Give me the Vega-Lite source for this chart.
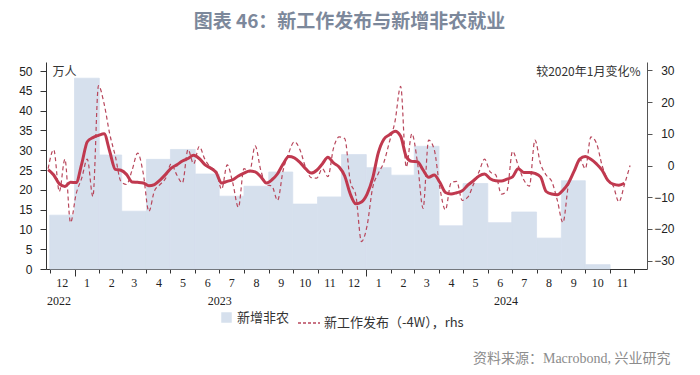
{
  "$schema": "https://vega.github.io/schema/vega-lite/v6.json",
  "width": 601,
  "height": 207,
  "autosize": "none",
  "padding": {"left": 46, "top": 62, "right": 53, "bottom": 106},
  "background": "white",
  "config": {
    "view": {"stroke": null},
    "axis": {"grid": false, "domainColor": "#333", "tickColor": "#333", "labelColor": "#222", "domainWidth": 1, "tickWidth": 1}
  },
  "title": {
    "text": "图表 46：新工作发布与新增非农就业",
    "font": "Noto Sans CJK SC",
    "fontSize": 19,
    "fontWeight": "bold",
    "color": "#7c889b",
    "anchor": "middle",
    "offset": 30,
    "dx": 3
  },
  "datasets": {
    "nfp": [
      {"m": "2022-12-01", "m2": "2023-01-01", "v": 13.6},
      {"m": "2023-01-01", "m2": "2023-02-01", "v": 48.2},
      {"m": "2023-02-01", "m2": "2023-03-01", "v": 28.8},
      {"m": "2023-03-01", "m2": "2023-04-01", "v": 14.6},
      {"m": "2023-04-01", "m2": "2023-05-01", "v": 27.7},
      {"m": "2023-05-01", "m2": "2023-06-01", "v": 30.2},
      {"m": "2023-06-01", "m2": "2023-07-01", "v": 24.0},
      {"m": "2023-07-01", "m2": "2023-08-01", "v": 18.4},
      {"m": "2023-08-01", "m2": "2023-09-01", "v": 20.9},
      {"m": "2023-09-01", "m2": "2023-10-01", "v": 24.5},
      {"m": "2023-10-01", "m2": "2023-11-01", "v": 16.4},
      {"m": "2023-11-01", "m2": "2023-12-01", "v": 18.2},
      {"m": "2023-12-01", "m2": "2024-01-01", "v": 28.9},
      {"m": "2024-01-01", "m2": "2024-02-01", "v": 25.6},
      {"m": "2024-02-01", "m2": "2024-03-01", "v": 23.7},
      {"m": "2024-03-01", "m2": "2024-04-01", "v": 31.0},
      {"m": "2024-04-01", "m2": "2024-05-01", "v": 10.9},
      {"m": "2024-05-01", "m2": "2024-06-01", "v": 21.6},
      {"m": "2024-06-01", "m2": "2024-07-01", "v": 11.7},
      {"m": "2024-07-01", "m2": "2024-08-01", "v": 14.4},
      {"m": "2024-08-01", "m2": "2024-09-01", "v": 7.8},
      {"m": "2024-09-01", "m2": "2024-10-01", "v": 22.3},
      {"m": "2024-10-01", "m2": "2024-11-01", "v": 1.1}
    ],
    "weekly": [
      {"d": "2022-11-29", "p": -1.0, "s": -1.3},
      {"d": "2022-12-06", "p": 5.0, "s": -3.0},
      {"d": "2022-12-13", "p": -8.2, "s": -5.8},
      {"d": "2022-12-20", "p": 2.0, "s": -6.6},
      {"d": "2022-12-27", "p": -18.0, "s": -5.3},
      {"d": "2023-01-03", "p": -9.0, "s": -5.4},
      {"d": "2023-01-10", "p": -4.0, "s": 0.5},
      {"d": "2023-01-17", "p": 2.0, "s": 7.5},
      {"d": "2023-01-24", "p": -9.8, "s": 8.8},
      {"d": "2023-01-31", "p": 25.2, "s": 9.5},
      {"d": "2023-02-07", "p": 19.5, "s": 10.0},
      {"d": "2023-02-14", "p": 10.0, "s": 4.5},
      {"d": "2023-02-21", "p": 3.0, "s": -1.2},
      {"d": "2023-02-28", "p": -5.0, "s": -1.5},
      {"d": "2023-03-07", "p": -6.0, "s": -2.8},
      {"d": "2023-03-14", "p": -1.5, "s": -5.2},
      {"d": "2023-03-21", "p": 3.9, "s": -5.3},
      {"d": "2023-03-28", "p": -2.5, "s": -5.5},
      {"d": "2023-04-04", "p": -14.5, "s": -6.4},
      {"d": "2023-04-11", "p": -8.0, "s": -6.0},
      {"d": "2023-04-18", "p": -6.0, "s": -4.6},
      {"d": "2023-04-25", "p": -4.0, "s": -2.8},
      {"d": "2023-05-02", "p": 0.5, "s": -0.8},
      {"d": "2023-05-09", "p": -3.0, "s": 0.2},
      {"d": "2023-05-16", "p": -5.5, "s": 1.4},
      {"d": "2023-05-23", "p": 5.0, "s": 2.2},
      {"d": "2023-05-30", "p": 0.5, "s": 3.2},
      {"d": "2023-06-06", "p": 6.0, "s": 2.2},
      {"d": "2023-06-13", "p": 2.0, "s": 0.3},
      {"d": "2023-06-20", "p": -0.5, "s": -0.8},
      {"d": "2023-06-27", "p": -1.5, "s": -2.2},
      {"d": "2023-07-04", "p": -7.5, "s": -5.5},
      {"d": "2023-07-11", "p": 0.2, "s": -5.0},
      {"d": "2023-07-18", "p": -5.5, "s": -4.5},
      {"d": "2023-07-25", "p": -13.2, "s": -3.3},
      {"d": "2023-08-01", "p": -1.0, "s": -2.4},
      {"d": "2023-08-08", "p": -2.0, "s": -1.7},
      {"d": "2023-08-15", "p": 6.2, "s": -2.0},
      {"d": "2023-08-22", "p": -1.5, "s": -3.5},
      {"d": "2023-08-29", "p": -6.0, "s": -5.5},
      {"d": "2023-09-05", "p": -6.5, "s": -4.5},
      {"d": "2023-09-12", "p": -11.0, "s": -2.6},
      {"d": "2023-09-19", "p": -1.5, "s": 0.5},
      {"d": "2023-09-26", "p": 4.0, "s": 2.8},
      {"d": "2023-10-03", "p": 7.5, "s": 2.4},
      {"d": "2023-10-10", "p": 5.0, "s": 1.0},
      {"d": "2023-10-17", "p": -0.5, "s": -1.0},
      {"d": "2023-10-24", "p": -3.8, "s": -2.4},
      {"d": "2023-10-31", "p": -4.0, "s": -1.5},
      {"d": "2023-11-07", "p": -1.0, "s": 0.5},
      {"d": "2023-11-14", "p": -3.5, "s": 2.6},
      {"d": "2023-11-21", "p": 5.5, "s": 0.8},
      {"d": "2023-11-28", "p": 9.0, "s": -0.5},
      {"d": "2023-12-05", "p": 8.5, "s": -3.3},
      {"d": "2023-12-12", "p": -5.0, "s": -9.0},
      {"d": "2023-12-19", "p": -9.5, "s": -12.1},
      {"d": "2023-12-26", "p": -24.0, "s": -11.5},
      {"d": "2024-01-02", "p": -19.0, "s": -9.0},
      {"d": "2024-01-09", "p": -7.0, "s": -4.0},
      {"d": "2024-01-16", "p": -2.5, "s": 4.0},
      {"d": "2024-01-23", "p": 1.0, "s": 8.3},
      {"d": "2024-01-30", "p": 7.5, "s": 9.7},
      {"d": "2024-02-06", "p": 14.0, "s": 10.8},
      {"d": "2024-02-13", "p": 25.0, "s": 9.2},
      {"d": "2024-02-20", "p": -0.5, "s": 2.8},
      {"d": "2024-02-27", "p": 10.0, "s": 1.3},
      {"d": "2024-03-05", "p": 1.0, "s": 1.2},
      {"d": "2024-03-12", "p": -13.5, "s": -1.4},
      {"d": "2024-03-19", "p": 8.0, "s": -3.7},
      {"d": "2024-03-26", "p": 5.0, "s": -3.0},
      {"d": "2024-04-02", "p": -7.0, "s": -5.3},
      {"d": "2024-04-09", "p": -14.0, "s": -8.5},
      {"d": "2024-04-16", "p": -5.5, "s": -9.0},
      {"d": "2024-04-23", "p": -5.0, "s": -8.6},
      {"d": "2024-04-30", "p": -11.0, "s": -8.0},
      {"d": "2024-05-07", "p": -10.0, "s": -6.2},
      {"d": "2024-05-14", "p": -6.0, "s": -4.8},
      {"d": "2024-05-21", "p": -2.0, "s": -3.3},
      {"d": "2024-05-28", "p": 2.0, "s": -2.7},
      {"d": "2024-06-04", "p": -2.0, "s": -4.2},
      {"d": "2024-06-11", "p": -3.0, "s": -4.8},
      {"d": "2024-06-18", "p": -9.0, "s": -4.9},
      {"d": "2024-06-25", "p": -8.0, "s": -4.3},
      {"d": "2024-07-02", "p": 4.5, "s": -3.6},
      {"d": "2024-07-09", "p": 0.0, "s": -1.0},
      {"d": "2024-07-16", "p": -4.5, "s": -2.2},
      {"d": "2024-07-23", "p": -6.5, "s": -2.2},
      {"d": "2024-07-30", "p": 8.0, "s": -2.5},
      {"d": "2024-08-06", "p": 0.5, "s": -3.6},
      {"d": "2024-08-13", "p": -3.0, "s": -8.2},
      {"d": "2024-08-20", "p": -5.0, "s": -9.0},
      {"d": "2024-08-27", "p": -11.0, "s": -9.2},
      {"d": "2024-09-03", "p": -18.0, "s": -7.8},
      {"d": "2024-09-10", "p": -6.0, "s": -5.5},
      {"d": "2024-09-17", "p": -2.0, "s": -1.8},
      {"d": "2024-09-24", "p": 2.0, "s": 2.0},
      {"d": "2024-10-01", "p": -1.0, "s": 2.8},
      {"d": "2024-10-08", "p": 9.0, "s": 2.0},
      {"d": "2024-10-15", "p": 7.0, "s": 0.5},
      {"d": "2024-10-22", "p": 0.0, "s": -1.5},
      {"d": "2024-10-29", "p": -4.5, "s": -4.6},
      {"d": "2024-11-05", "p": -6.5, "s": -5.9},
      {"d": "2024-11-12", "p": -11.5, "s": -6.2},
      {"d": "2024-11-19", "p": -6.0, "s": -5.6},
      {"d": "2024-11-26", "p": 0.0}
    ]
  },
  "layer": [
    {
      "data": {"name": "nfp"},
      "mark": {"type": "rect", "stroke": "#d6e0ed", "strokeWidth": 0.8},
      "encoding": {
        "x": {
          "field": "m",
          "type": "temporal",
          "scale": {
            "type": "utc",
            "domain": [
              {"year": 2022, "month": 11, "date": 26, "hours": 8, "utc": true},
              {"year": 2024, "month": 12, "date": 17, "hours": 4, "utc": true}
            ]
          },
          "axis": {
            "orient": "bottom",
            "tickCount": {"interval": "month", "step": 1},
            "labelExpr": "utcyear(datum.value) == 2024 && utcmonth(datum.value) == 11 ? '' : utcFormat(datum.value, '%-m')",
            "labelOffset": 12,
            "labelFont": "Liberation Serif",
            "labelFontSize": 12,
            "labelPadding": 4,
            "labelAngle": 0,
            "labelFlush": false,
            "labelOverlap": false,
            "tickSize": 4,
            "title": null
          }
        },
        "x2": {"field": "m2"},
        "y": {
          "field": "v",
          "type": "quantitative",
          "scale": {"domain": [0, 52.3], "nice": false},
          "axis": {
            "orient": "left",
            "values": [0, 5, 10, 15, 20, 25, 30, 35, 40, 45, 50],
            "tickSize": 6,
            "labelPadding": 8,
            "labelFont": "Liberation Sans",
            "labelFontSize": 12,
            "title": "万人",
            "titleAngle": 0,
            "titleX": 6,
            "titleY": 9,
            "titleAlign": "left",
            "titleBaseline": "middle",
            "titleFont": "Noto Sans CJK SC",
            "titleFontSize": 12,
            "titleFontWeight": "normal",
            "titleColor": "#333"
          }
        },
        "y2": {"datum": 0},
        "fill": {
          "datum": "新增非农",
          "type": "nominal",
          "scale": {"domain": ["新增非农"], "range": ["#d6e0ed"]},
          "legend": {
            "orient": "none",
            "legendX": 174,
            "legendY": 249,
            "direction": "horizontal",
            "title": null,
            "labelFont": "Noto Sans CJK SC",
            "labelFontSize": 13,
            "labelColor": "#333",
            "labelLimit": 300,
            "labelOffset": 4,
            "symbolType": "square",
            "symbolSize": 110,
            "symbolStrokeWidth": 0
          }
        }
      }
    },
    {
      "data": {"name": "weekly"},
      "mark": {"type": "line", "interpolate": "monotone", "strokeDash": [4, 3], "strokeWidth": 1.2},
      "encoding": {
        "x": {
          "field": "d",
          "type": "temporal",
          "axis": {
            "orient": "bottom",
            "values": [
              {"year": 2022, "month": 12, "date": 12, "utc": true},
              {"year": 2023, "month": 7, "date": 1, "utc": true},
              {"year": 2024, "month": 6, "date": 23, "utc": true}
            ],
            "format": "%Y",
            "domain": false,
            "ticks": false,
            "tickSize": 0,
            "labelPadding": 26,
            "labelFont": "Liberation Serif",
            "labelFontSize": 12,
            "labelFlush": false,
            "labelOverlap": false,
            "title": "资料来源：Macrobond, 兴业研究",
            "titleX": 624,
            "titleY": 89,
            "titleAlign": "right",
            "titleBaseline": "middle",
            "titleFont": "Liberation Serif, Noto Sans CJK SC",
            "titleFontSize": 14,
            "titleFontWeight": "normal",
            "titleColor": "#8c8c8c"
          }
        },
        "y": {
          "field": "p",
          "type": "quantitative",
          "scale": {"domain": [-32.65, 32.65], "nice": false},
          "axis": {
            "orient": "right",
            "values": [-30, -20, -10, 0, 10, 20, 30],
            "tickSize": 5,
            "labelPadding": 22,
            "labelAlign": "right",
            "labelFont": "Liberation Sans",
            "labelFontSize": 12,
            "domainColor": "#555",
            "tickColor": "#555",
            "title": "较2020年1月变化%",
            "titleAngle": 0,
            "titleX": -7,
            "titleY": 9,
            "titleAlign": "right",
            "titleBaseline": "middle",
            "titleFont": "Noto Sans CJK SC",
            "titleFontSize": 12,
            "titleFontWeight": "normal",
            "titleColor": "#333"
          }
        },
        "stroke": {
          "datum": "新工作发布（-4W），rhs",
          "type": "nominal",
          "scale": {"domain": ["新工作发布（-4W），rhs"], "range": ["#b8475c"]},
          "legend": {
            "orient": "none",
            "legendX": 251,
            "legendY": 249,
            "direction": "horizontal",
            "title": null,
            "labelFont": "Noto Sans CJK SC",
            "labelFontSize": 13,
            "labelColor": "#333",
            "labelLimit": 300,
            "labelOffset": 3,
            "symbolType": "stroke",
            "symbolSize": 484,
            "symbolDash": [3, 2],
            "symbolStrokeWidth": 1.5
          }
        }
      }
    },
    {
      "data": {"name": "weekly"},
      "mark": {"type": "line", "interpolate": "monotone", "strokeWidth": 3, "color": "#c0394f"},
      "encoding": {
        "x": {
          "field": "d",
          "type": "temporal",
          "axis": {
            "orient": "bottom",
            "values": [
              {"year": 2023, "month": 1, "date": 1, "utc": true},
              {"year": 2024, "month": 1, "date": 1, "utc": true}
            ],
            "labels": false,
            "domain": false,
            "tickSize": 7,
            "title": null
          }
        },
        "y": {
          "field": "s",
          "type": "quantitative",
          "scale": {"domain": [-32.65, 32.65], "nice": false},
          "axis": null
        }
      }
    }
  ],
  "resolve": {
    "scale": {"y": "independent"},
    "axis": {"x": "independent", "y": "independent"}
  }
}
